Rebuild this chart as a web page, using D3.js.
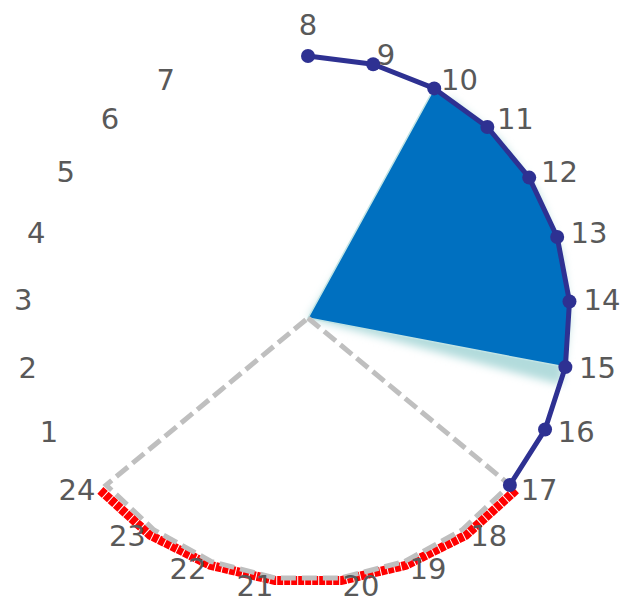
<!DOCTYPE html>
<html>
<head>
<meta charset="utf-8">
<script src="https://cdn.jsdelivr.net/npm/d3@7"></script>
<style>
	html, body { margin: 0; padding: 0; background: #fff; }
	text { font-family: 'DejaVu Sans', Verdana, sans-serif; }
</style>
</head>
<body>
<div id="main-content"></div>
<script>
'use strict'

// hour categories, clockwise from the top; the radar has one blank slot after 7
const hours = ['8', '9', '10', '11', '12', '13', '14', '15', '16', '17', '18', '19',
	'20', '21', '22', '23', '24', '1', '2', '3', '4', '5', '6', '7']
const slots = 25

// series values (1 = full radius, 0 = centre, null = no point)
const dayLine = [1, 1, 1, 1, 1, 1, 1, 1, 1, 1, null, null, null, null, null, null, null,
	null, null, null, null, null, null, null]
const peakArea = [0, 0, 1, 1, 1, 1, 1, 1, 0, 0, 0, 0, 0, 0, 0, 0, 0, 0, 0, 0, 0, 0, 0, 0]
const nightRange = [0, 0, 0, 0, 0, 0, 0, 0, 0, 1, 1, 1, 1, 1, 1, 1, 1, 0, 0, 0, 0, 0, 0, 0]
const nightLine = [null, null, null, null, null, null, null, null, null,
	1.03, 1.025, 1.015, 1.01, 1.01, 1.015, 1.025, 1.03,
	null, null, null, null, null, null, null]

const width = 622,
		height = 601
const cx = 308,
		cy = 318,
		outer = 262,
		labelR = 276

const svg = d3.select('#main-content').append('svg')
	.attr('width', width)
	.attr('height', height)

const defs = svg.append('defs')
defs.append('filter')
	.attr('id', 'soft')
	.attr('x', '-20%').attr('y', '-20%')
	.attr('width', '140%').attr('height', '140%')
	.append('feGaussianBlur')
	.attr('stdDeviation', 4)

const angle = d3.scaleLinear().domain([0, slots]).range([0, 2 * Math.PI])
const radius = d3.scaleLinear().domain([0, 1]).range([0, outer])

const radial = () => d3.lineRadial()
	.angle((d, i) => angle(i))
	.radius((d) => radius(d))
	.defined((d) => d !== null)

const g = svg.append('g')
	.attr('transform', `translate(${cx},${cy})`)

// soft shadow under the blue area
g.append('path')
	.attr('d', radial().curve(d3.curveLinearClosed)(peakArea))
	.attr('transform', 'rotate(4)')
	.attr('fill', '#b2dbdc')
	.attr('filter', 'url(#soft)')

g.append('path')
	.attr('d', radial().curve(d3.curveLinearClosed)(peakArea))
	.attr('fill', '#0070c0')
	.attr('stroke', '#c2e4e4')
	.attr('stroke-width', 1.5)
	.attr('stroke-linejoin', 'round')

// red night line, just outside the grey outline
g.append('path')
	.attr('d', radial()(nightLine))
	.attr('fill', 'none')
	.attr('stroke', '#ff0000')
	.attr('stroke-width', 9)
	.attr('stroke-dasharray', '6 1')

g.append('path')
	.attr('d', radial().curve(d3.curveLinearClosed)(nightRange))
	.attr('fill', 'none')
	.attr('stroke', '#bfbfbf')
	.attr('stroke-width', 5)
	.attr('stroke-dasharray', '15 6')

g.append('path')
	.attr('d', radial()(dayLine))
	.attr('fill', 'none')
	.attr('stroke', '#2e3192')
	.attr('stroke-width', 5)
	.attr('stroke-linejoin', 'round')

g.selectAll('.dot')
	.data(dayLine.map((v, i) => ({ v: v, i: i })).filter((d) => d.v !== null))
	.enter().append('circle')
		.attr('class', 'dot')
		.attr('cx', (d) => radius(d.v) * Math.sin(angle(d.i)))
		.attr('cy', (d) => -radius(d.v) * Math.cos(angle(d.i)))
		.attr('r', 7)
		.attr('fill', '#2e3192')

g.selectAll('.hour')
	.data(hours)
	.enter().append('text')
		.attr('class', 'hour')
		.attr('x', (d, i) => labelR * Math.sin(angle(i)))
		.attr('y', (d, i) => {
			const s = Math.sin(angle(i)), c = Math.cos(angle(i))
			if (Math.abs(s) < 0.05) return -labelR * c - 7
			return -labelR * c + 5 * c + 9
		})
		.attr('text-anchor', (d, i) => {
			const s = Math.sin(angle(i))
			return Math.abs(s) < 0.05 ? 'middle' : (s > 0 ? 'start' : 'end')
		})
		.attr('font-size', 29)
		.attr('fill', '#595959')
		.text((d) => d)
</script>
</body>
</html>
